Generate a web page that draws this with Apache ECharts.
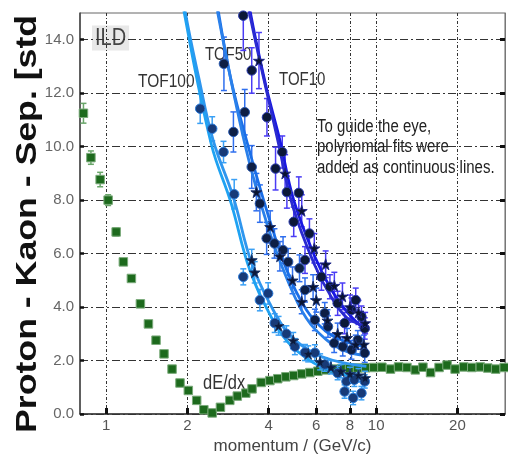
<!DOCTYPE html>
<html><head><meta charset="utf-8">
<script src="https://cdn.jsdelivr.net/npm/echarts@6/dist/echarts.min.js"></script>
<style>html,body{margin:0;padding:0;background:#fff}#c{width:508px;height:460px}</style>
</head><body><div id="c"></div>
<script>
// ---- axis ticks ----
const xTicks = [1, 2, 4, 6, 8, 10, 20];
const yTicks = [0, 2, 4, 6, 8, 10, 12, 14];

// ---- dE/dx points: [momentum, separation, error] ----
const dedxPoints = [
  [0.824,11.25,0.37],[0.878,9.59,0.25],[0.950,8.77,0.27],[1.017,8.00,0.20],[1.089,6.81,0.15],
  [1.158,5.69,0.10],[1.24,5.07,0.08],[1.339,4.12,0.08],[1.434,3.37,0.06],[1.53,2.76,0.06],
  [1.638,2.25,0.06],[1.754,1.68,0.05],[1.877,1.16,0.05],[2.015,0.88,0.05],[2.164,0.51,0.05],
  [2.30,0.16,0.05],[2.47,0.04,0.05],[2.65,0.25,0.05],[2.87,0.51,0.05],[3.06,0.67,0.05],
  [3.29,0.78,0.05],[3.47,0.94,0.05],[3.75,1.18,0.05],[4.04,1.25,0.05],[4.32,1.32,0.05],
  [4.63,1.39,0.05],[4.95,1.44,0.05],[5.30,1.50,0.05],[5.68,1.55,0.05],[6.08,1.60,0.05],
  [6.51,1.65,0.05],[6.97,1.68,0.05],[7.45,1.70,0.05],[7.97,1.71,0.05],[8.53,1.72,0.05],
  [9.15,1.73,0.05],[9.80,1.74,0.05],[10.5,1.75,0.05],[11.3,1.68,0.05],[12.1,1.76,0.05],
  [13.0,1.74,0.05],[13.96,1.65,0.05],[14.9,1.75,0.05],[15.9,1.55,0.05],[17.1,1.74,0.05],
  [18.3,1.83,0.05],[19.6,1.68,0.05],[21.1,1.76,0.05],[22.6,1.74,0.05],[24.3,1.76,0.05],
  [25.9,1.72,0.05],[27.7,1.68,0.05],[29.8,1.74,0.05]
];

// ---- TOF points: [momentum, separation, error] ----
const tof100Circles = [
  [2.23,11.42,0.55],[2.47,10.67,0.45],[2.72,9.80,0.40],[2.98,8.22,0.55],[3.22,5.13,0.30],
  [3.71,4.26,0.40],[3.98,4.51,0.40],[4.21,3.40,0.35],[4.65,3.00,0.30],[5.00,2.52,0.30],
  [5.45,2.30,0.30],[5.93,2.29,0.30],[6.45,1.85,0.25],[7.20,1.53,0.25],[7.64,0.84,0.25],
  [7.76,1.22,0.25],[8.22,0.60,0.25],[8.30,1.28,0.25],[8.82,0.78,0.25],[9.07,1.22,0.25]
];
const tof100Stars = [
  [3.46,5.76,0.40],[3.55,5.30,0.40],[4.35,3.30,0.35],[4.93,2.75,0.30],[5.60,2.25,0.30],
  [6.20,1.95,0.30],[6.80,1.75,0.25],[7.40,1.60,0.25],[8.00,1.50,0.25],[8.60,1.45,0.25],[9.10,1.35,0.25]
];
const tof50Circles = [
  [2.73,13.10,1.00],[2.96,10.55,0.75],[3.26,11.29,0.85],[3.46,9.24,0.80],[3.71,7.87,0.70],
  [3.93,6.57,0.60],[4.20,6.38,0.55],[4.52,6.13,0.50],[4.72,5.69,0.50],[5.20,5.45,0.50],
  [5.45,4.64,0.45],[5.93,3.52,0.40],[6.45,3.77,0.40],[6.63,3.27,0.40],[6.99,2.65,0.35],
  [7.52,2.52,0.35],[8.10,2.40,0.35],[8.55,2.77,0.35],[9.07,2.28,0.35]
];
const tof50Stars = [
  [3.60,8.30,0.70],[4.05,7.00,0.60],[4.40,5.90,0.55],[4.90,5.00,0.50],[5.30,4.20,0.45],
  [5.84,4.76,0.45],[6.00,4.26,0.45],[6.60,3.50,0.40],[7.20,3.00,0.40],[7.80,2.85,0.35],
  [8.40,2.60,0.35],[9.00,2.60,0.35]
];
const tof10Circles = [
  [3.22,14.90,1.30],[3.46,12.85,0.85],[3.94,11.10,0.70],[4.24,9.18,0.80],[4.49,9.80,0.60],
  [4.67,8.30,0.60],[4.95,7.19,0.55],[5.17,8.27,0.60],[5.45,5.76,0.50],[5.66,6.75,0.55],
  [6.27,5.13,0.50],[6.74,4.76,0.45],[7.20,4.14,0.45],[7.64,3.40,0.40],[8.10,3.89,0.45],
  [8.40,4.26,0.45],[8.82,3.64,0.40],[9.07,3.20,0.40]
];
const tof10Stars = [
  [3.68,13.22,1.05],[4.60,9.00,0.70],[5.30,7.60,0.60],[5.90,6.20,0.55],[6.50,5.60,0.50],
  [7.00,4.80,0.50],[7.50,4.40,0.50],[8.00,4.00,0.45],[8.60,3.80,0.45],[9.10,3.40,0.40]
];

// ---- polynomial-fit guide lines: [momentum, separation] ----
const fit100a = [[1.90,16.2],[1.96,15.08],[2.20,12.6],[2.49,10.24],[2.955,8.12],[3.46,5.63],[4.155,3.89],[4.72,3.02],[5.50,2.45],[6.27,2.15],[7.50,1.92],[9.20,1.78]];
const fit100b = [[1.88,16.2],[1.94,15.08],[2.45,10.10],[2.90,7.90],[3.40,5.40],[4.10,3.60],[4.70,2.70],[5.50,2.10],[6.30,1.75],[7.50,1.50],[9.20,1.30]];
const fit50a  = [[2.52,16.2],[2.60,15.09],[2.90,12.5],[3.31,10.24],[4.00,7.37],[4.66,5.40],[5.52,3.89],[6.50,3.10],[7.50,2.75],[8.30,2.60],[9.20,2.50]];
const fit50b  = [[2.50,16.2],[2.58,15.09],[3.28,10.00],[4.00,6.90],[4.70,5.00],[5.50,3.60],[6.50,2.80],[7.50,2.40],[8.30,2.25],[9.20,2.20]];
const fit10a  = [[3.30,16.2],[3.41,15.09],[3.90,12.3],[4.40,10.24],[4.95,8.00],[5.93,5.88],[6.83,4.64],[7.87,3.77],[9.10,3.15]];
const fit10b  = [[3.27,16.2],[3.38,15.09],[4.35,10.10],[4.90,7.80],[5.90,5.60],[6.80,4.40],[7.80,3.60],[9.10,3.30]];

const STAR = 'path://M50,0 L61,35 L98,35 L68,57 L79,91 L50,70 L21,91 L32,57 L2,35 L39,35 Z';

function errSeries(data, color, z) {
  return {
    type: 'custom', data: data, z: z, clip: true, silent: true,
    encode: { x: 0, y: 1 },
    renderItem: function (params, api) {
      const x = api.value(0), y = api.value(1), e = api.value(2);
      const hi = api.coord([x, y + e]), lo = api.coord([x, y - e]);
      const w = 3;
      const st = { stroke: color, lineWidth: 1.5 };
      return { type: 'group', children: [
        { type: 'line', shape: { x1: hi[0], y1: hi[1], x2: lo[0], y2: lo[1] }, style: st },
        { type: 'line', shape: { x1: hi[0] - w, y1: hi[1], x2: hi[0] + w, y2: hi[1] }, style: st },
        { type: 'line', shape: { x1: lo[0] - w, y1: lo[1], x2: lo[0] + w, y2: lo[1] }, style: st }
      ]};
    }
  };
}
function fitSeries(data, color, z) {
  return { type: 'line', data: data, smooth: 0.4, showSymbol: false, symbol: 'none', z: z,
    lineStyle: { color: color, width: 2.8 }, silent: true };
}
function markSeries(data, symbol, size, fill, border, z) {
  return { type: 'scatter', data: data, symbol: symbol, symbolSize: size, z: z,
    encode: { x: 0, y: 1 },
    itemStyle: { color: fill, borderColor: border, borderWidth: 1, opacity: 1 } };
}

const chart = echarts.init(document.getElementById('c'), null, { renderer: 'canvas' });
const FONT = '"Liberation Sans", Arial, sans-serif';
chart.setOption({
  animation: false,
  backgroundColor: '#fff',
  grid: { left: 80, right: 3, top: 13, bottom: 46, show: true, borderColor: '#666', borderWidth: 1, containLabel: false },
  xAxis: {
    type: 'log', logBase: 10, min: 0.8, max: 30,
    name: 'momentum / (GeV/c)', nameLocation: 'middle', nameGap: 20,
    nameTextStyle: { fontFamily: FONT, fontSize: 17, color: '#444' },
    axisLine: { show: true, lineStyle: { color: '#333', width: 1.5 } },
    axisTick: { show: true, inside: true, length: 6, customValues: xTicks, lineStyle: { color: '#111', width: 3 } },
    axisLabel: { show: true, customValues: xTicks, fontFamily: FONT, fontSize: 15, color: '#555', margin: 4 },
    splitLine: { show: true, lineStyle: { color: '#333', width: 1, type: [3, 2, 1, 2] } },
    minorTick: { show: false }
  },
  yAxis: [{
    type: 'value', min: 0, max: 15,
    axisLine: { show: true, lineStyle: { color: '#444', width: 1.5 } },
    axisTick: { show: true, inside: true, length: 4, customValues: yTicks, lineStyle: { color: '#111', width: 2.5 } },
    axisLabel: { show: true, customValues: yTicks, formatter: function (v) { return v.toFixed(1); },
      fontFamily: FONT, fontSize: 15, color: '#666', margin: 6 },
    splitLine: { show: true, lineStyle: { color: '#333', width: 1, type: [8, 3, 2, 3] } }
  }, {
    type: 'value', min: 0, max: 15, position: 'right',
    axisLine: { show: true, lineStyle: { color: '#777', width: 1 } },
    axisTick: { show: true, inside: true, length: 5, customValues: yTicks, lineStyle: { color: '#111', width: 3 } },
    axisLabel: { show: false },
    splitLine: { show: false }
  }],
  graphic: [
    { type: 'text', x: 28, y: 433, rotation: Math.PI / 2, scaleX: 1.23,
      style: { text: 'Proton - Kaon - Sep. [std', font: 'bold 29px ' + FONT, fill: '#111',
        textAlign: 'left', textVerticalAlign: 'middle' } },
    { type: 'text', x: 92, y: 38, scaleY: 1.2,
      style: { text: 'ILD', font: '20px ' + FONT, fill: '#444', backgroundColor: '#e8e8e8',
        padding: [1, 3, 0, 3], textAlign: 'left', textVerticalAlign: 'middle' } },
    { type: 'text', x: 138, y: 82, scaleY: 1.2,
      style: { text: 'TOF100', font: '15.5px ' + FONT, fill: '#333', textAlign: 'left', textVerticalAlign: 'middle' } },
    { type: 'text', x: 205, y: 55, scaleY: 1.2,
      style: { text: 'TOF50', font: '15px ' + FONT, fill: '#333', textAlign: 'left', textVerticalAlign: 'middle' } },
    { type: 'text', x: 279, y: 80, scaleY: 1.2,
      style: { text: 'TOF10', font: '15px ' + FONT, fill: '#333', textAlign: 'left', textVerticalAlign: 'middle' } },
    { type: 'text', x: 203, y: 384, scaleY: 1.2,
      style: { text: 'dE/dx', font: '16.5px ' + FONT, fill: '#333', textAlign: 'left', textVerticalAlign: 'middle' } },
    { type: 'text', x: 317, y: 147.5, scaleY: 1.2,
      style: { text: 'To guide the eye,\npolynomial fits were\nadded as continuous lines.', font: '15px ' + FONT,
        lineHeight: 17, fill: '#222', textAlign: 'left', textVerticalAlign: 'middle' } }
  ],
  series: [
    errSeries(dedxPoints, '#6aa66a', 2),
    markSeries(dedxPoints, 'rect', 8.5, '#1d6a1d', '#7aaa7a', 3),

    errSeries(tof100Circles, '#3aa0f5', 4),
    errSeries(tof100Stars, '#3aa0f5', 4),
    errSeries(tof50Circles, '#2f6fee', 4),
    errSeries(tof50Stars, '#2f6fee', 4),
    errSeries(tof10Circles, '#4a3cf5', 4),
    errSeries(tof10Stars, '#4a3cf5', 4),

    fitSeries(fit100a, '#2f96ee', 5),
    fitSeries(fit100b, '#1fa2f2', 5),
    fitSeries(fit50a, '#1a6fe8', 5),
    fitSeries(fit50b, '#2a80ea', 5),
    fitSeries(fit10a, '#1818e2', 5),
    fitSeries(fit10b, '#2a2ad0', 5),

    markSeries(tof100Circles, 'circle', 9.5, '#173a78', '#2a7ad8', 6),
    markSeries(tof100Stars, STAR, 11, '#0c1a3a', '#1a3a70', 6),
    markSeries(tof50Circles, 'circle', 9.5, '#0e1f45', '#2a5ab0', 6),
    markSeries(tof50Stars, STAR, 11, '#0a1430', '#1a3070', 6),
    markSeries(tof10Circles, 'circle', 9.5, '#0c1838', '#2a3ab0', 6),
    markSeries(tof10Stars, STAR, 11, '#0a1230', '#20288a', 6)
  ]
});
</script>
</body></html>
